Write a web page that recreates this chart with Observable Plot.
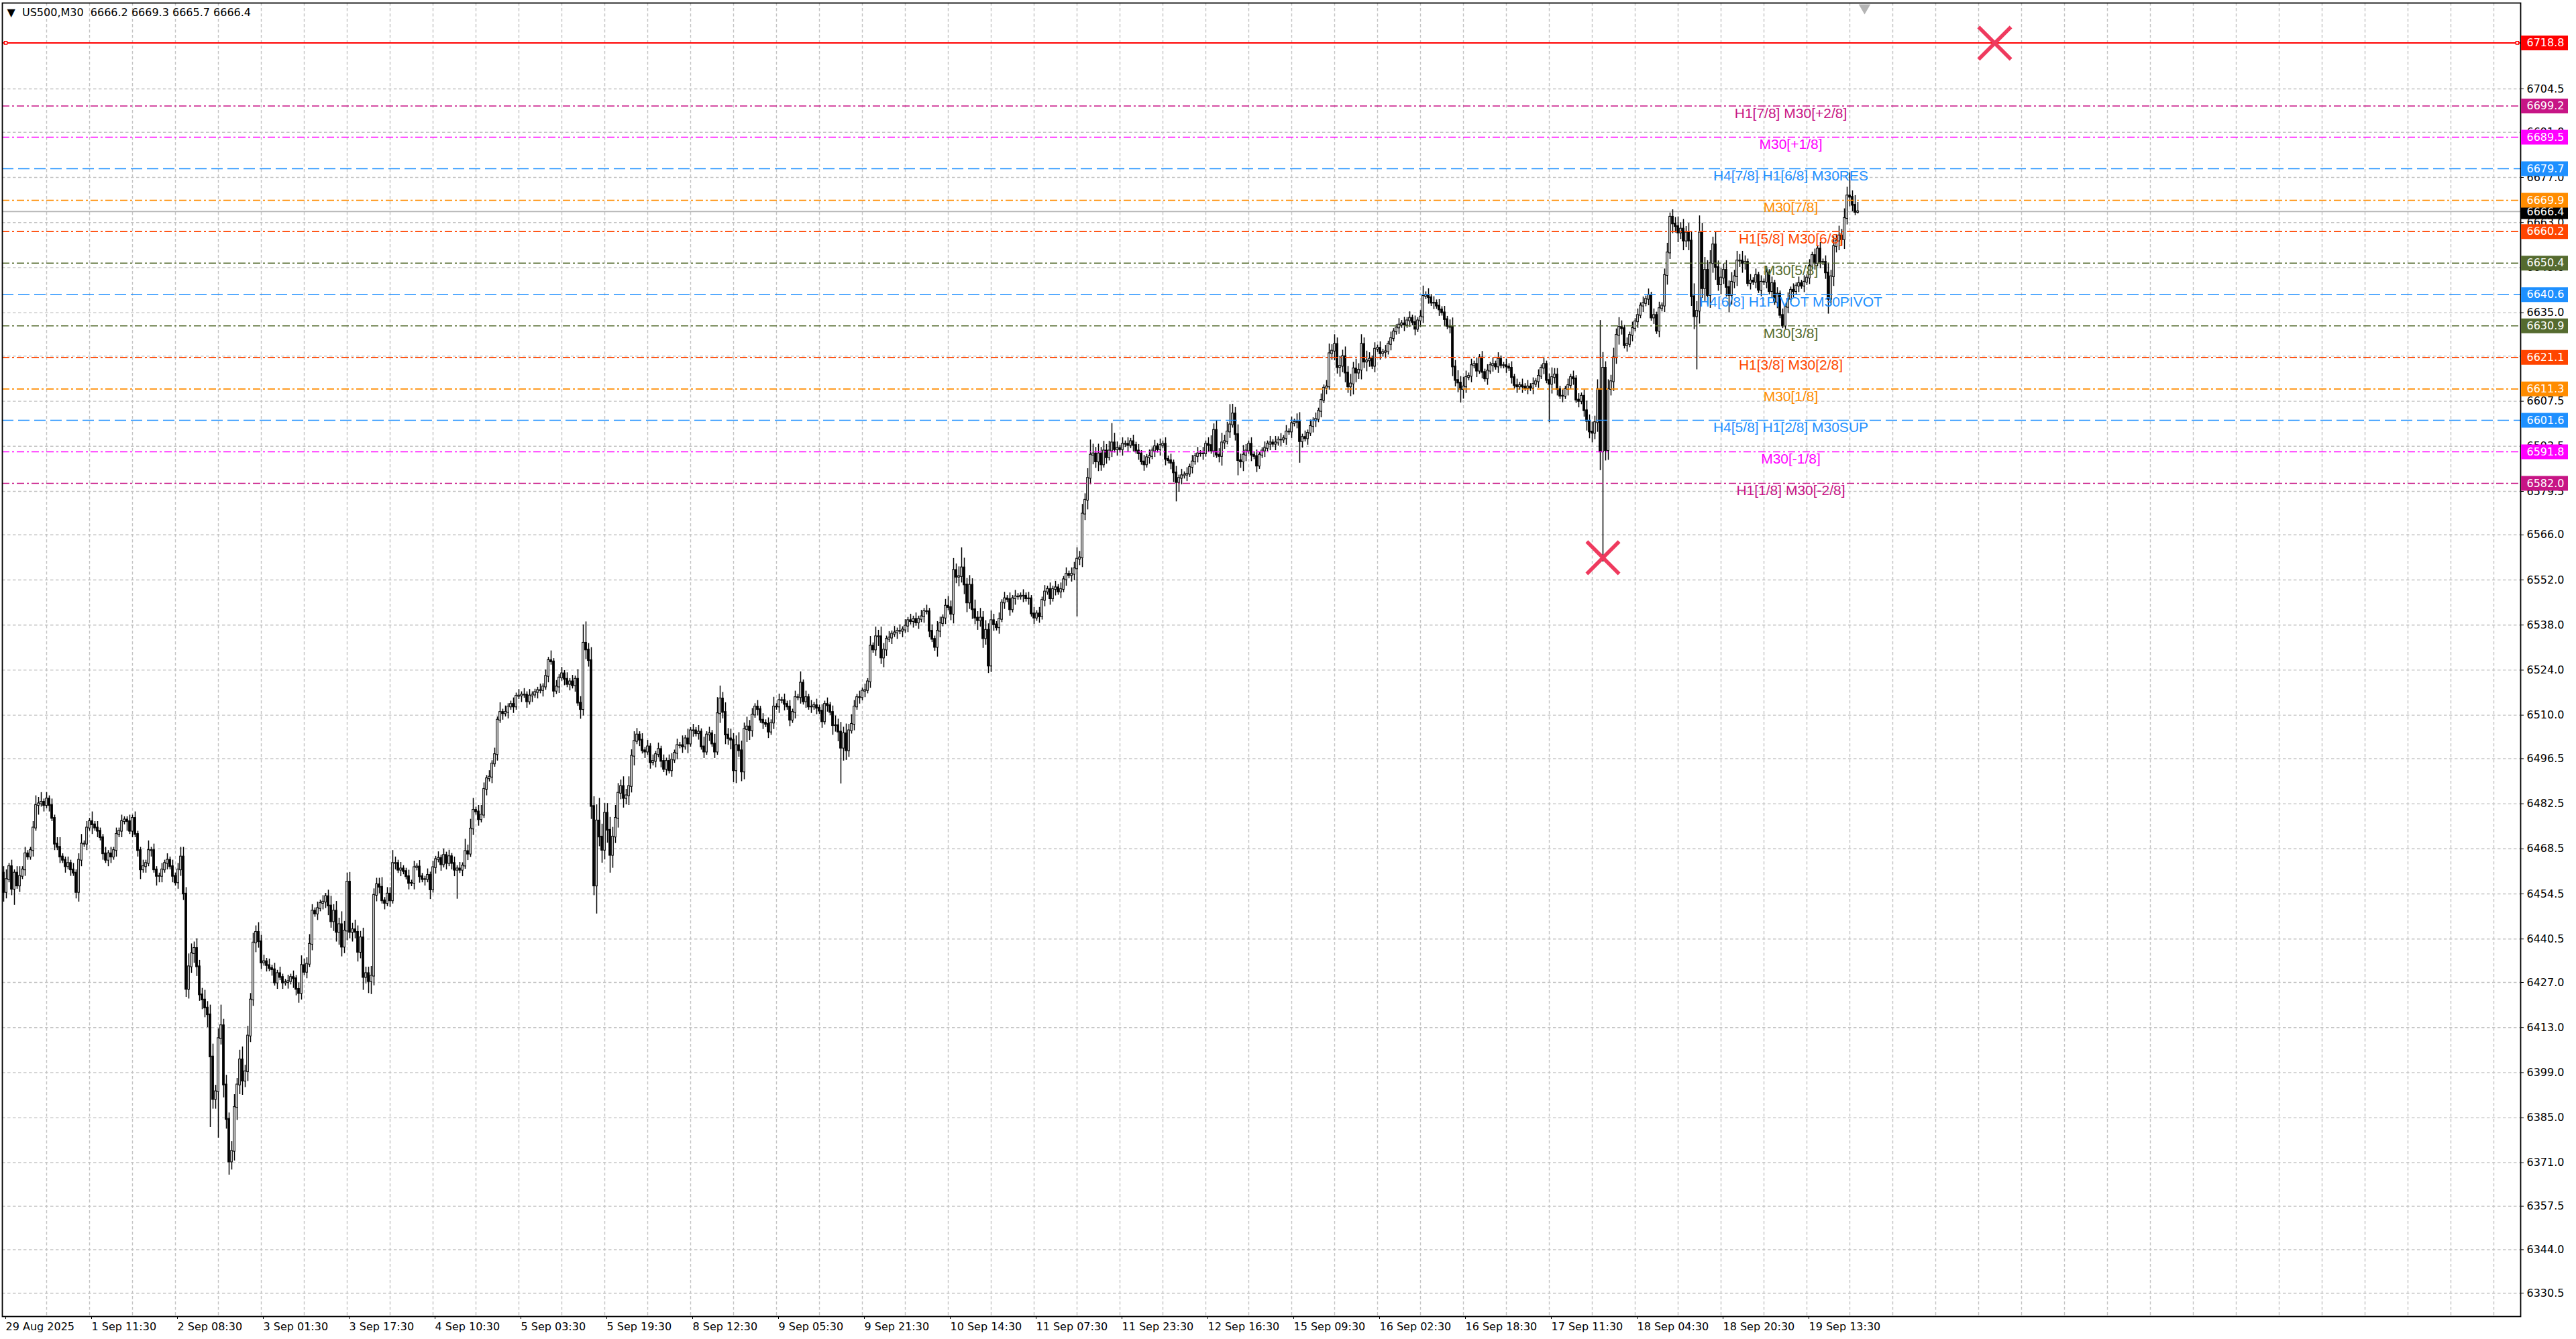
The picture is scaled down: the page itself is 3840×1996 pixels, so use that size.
<!DOCTYPE html>
<html>
<head>
<meta charset="utf-8">
<script src="https://cdn.jsdelivr.net/npm/d3@7"></script>
<script src="https://cdn.jsdelivr.net/npm/@observablehq/plot@0.6"></script>
<style>
  html, body { margin: 0; padding: 0; background: #fff; }
  #chart { width: 3840px; height: 1996px; overflow: hidden; }
</style>
</head>
<body>
<div id="chart"></div>
<script>
const title = "\u25BC\u00a0\u00a0US500,M30\u00a0\u00a06666.2 6669.3 6665.7 6666.4";

// M30 closes, bar 0 = 29 Aug 2025; each bar opens at the previous close
const firstOpen = 6461;
const closesA = [
  6455, 6459, 6463, 6456, 6461, 6457, 6460, 6462, 6467, 6466,
  6468, 6475, 6482, 6482.5, 6483, 6482, 6484, 6482, 6478, 6470,
  6469, 6466, 6465, 6463, 6464, 6462, 6461, 6455, 6465, 6470,
  6470, 6475, 6477, 6476, 6475, 6474, 6472, 6467, 6465, 6467,
  6466, 6468, 6473, 6474, 6477, 6477.5, 6477, 6474, 6478, 6473,
  6468, 6462, 6463, 6464, 6468, 6468, 6462, 6460, 6460, 6462,
  6464, 6465, 6463, 6460, 6458, 6462, 6466, 6454.5, 6424.9, 6431.9,
  6436.0, 6437.6, 6431.9, 6423.2, 6421.6, 6419.1, 6417.0, 6403.9, 6390.7, 6393.1,
  6409.6, 6413.6, 6395.2, 6384.5, 6371.3, 6374.6, 6388.2, 6395.2, 6403.0, 6396.4,
  6399.3, 6410.4, 6421.6, 6439.3, 6442.6, 6439.7, 6433.1, 6433.5, 6432.3, 6431.4,
  6431.0, 6426.9, 6429.8, 6428.6, 6426.9, 6427.0, 6427.3, 6428.6, 6428.2, 6424.9,
  6423.6, 6432.3, 6430.2, 6432.7, 6438.9, 6449.2, 6448.3, 6450.0, 6451.6, 6452.0,
  6453.7, 6450.8, 6445.9, 6449.2, 6442.6, 6445.0, 6438.0, 6443.0, 6458.2, 6442.6,
  6443.4, 6442.6, 6436.4, 6440.9, 6428.6, 6429.8, 6427.3, 6429.0, 6454.1, 6457.4,
  6456.6, 6452.4, 6451.6, 6454.5, 6452.4, 6464.0, 6464.0, 6461.9, 6462.3, 6461.5,
  6459.9, 6457.8, 6457.8, 6462.7, 6462.9, 6459.9, 6459.0, 6459.0, 6460.3, 6455.8,
  6462.7, 6465.2, 6465.6, 6463.6, 6466.5, 6464.0, 6466.1, 6464.0, 6461.9, 6462.3,
  6461.9, 6463.2, 6467.7, 6466.9, 6474.7, 6480.5, 6480.0, 6477.6, 6479.0
];
const closesB = [
  6487.0, 6490.3, 6490.8, 6494.9, 6497.8, 6508.5, 6510.9, 6510.5, 6510.9, 6512.6,
  6513.4, 6512.6, 6515.9, 6516.0, 6516.3, 6516.3, 6514.2, 6516.0, 6516.3, 6517.1,
  6517.7, 6517.7, 6518.8, 6522.1, 6527.0, 6526.6, 6517.5, 6518.8, 6521.6, 6522.9,
  6521.2, 6519.6, 6520.4, 6519.2, 6521.2, 6513.8, 6511.8, 6532.4, 6530.3, 6527.0,
  6481.7, 6457.0, 6477.2, 6472.2, 6468.1, 6479.6, 6474.3, 6466.5, 6472.2, 6478.0,
  6485.8, 6487.9, 6484.2, 6485.0, 6487.9, 6497.3, 6501.9, 6503.9, 6502.3, 6499.0,
  6498.6, 6500.2, 6495.3, 6495.7, 6497.8, 6499.4, 6495.7, 6493.2, 6495.7, 6492.8,
  6496.1, 6498.2, 6500.6, 6500.6, 6500.2, 6502.7, 6501.1, 6505.2, 6505.2, 6504.3,
  6504.8, 6500.2, 6498.6, 6503.9, 6504.3, 6501.1, 6498.6, 6510.5, 6515.1, 6510.9,
  6503.9, 6502.7, 6502.3, 6492.8, 6500.6, 6499.0, 6492.4, 6505.6, 6506.4, 6505.2,
  6510.1, 6512.6, 6511.8, 6508.5, 6507.6, 6507.2, 6504.8, 6507.6, 6512.6, 6512.6,
  6514.6, 6514.6, 6513.4, 6512.6, 6508.5, 6510.9, 6515.5, 6515.5, 6520.0, 6514.2,
  6515.5, 6512.6, 6512.6, 6513.0, 6512.2, 6511.3, 6508.0, 6513.4, 6513.0, 6510.9,
  6506.8, 6506.8, 6504.8, 6499.8, 6504.3, 6499.0, 6505.2, 6507.2, 6512.6, 6515.5,
  6515.5, 6517.5, 6517.7, 6520.4, 6531.5, 6530.3, 6534.4, 6534.4, 6527.8, 6530.3,
  6533.6, 6534.0, 6535.2, 6535.6, 6536.1, 6536.1, 6536.5, 6537.7, 6539.4, 6539.1,
  6539.8, 6538.7, 6539.8, 6540.6, 6542.2, 6542.2, 6536.1, 6533.6, 6531.1, 6536.1,
  6538.5, 6540.2, 6543.9, 6543.5, 6541.4, 6555.0, 6552.9, 6553.1, 6555.8, 6550.5
];
const closesC = [
  6544.9, 6550.4, 6542.8, 6540.2, 6539.4, 6540.2, 6533.8, 6536.4, 6525.3, 6539.4,
  6538.1, 6537.2, 6539.8, 6544.9, 6546.2, 6546.0, 6542.8, 6546.2, 6546.8, 6546.8,
  6547.0, 6547.0, 6546.2, 6546.2, 6541.5, 6540.2, 6541.5, 6540.6, 6545.7, 6548.3,
  6549.1, 6546.2, 6549.1, 6549.6, 6548.3, 6549.1, 6552.1, 6553.8, 6553.4, 6553.8,
  6555.5, 6558.5, 6558.9, 6572.5, 6576.8, 6583.6, 6590.8, 6591.2, 6588.7, 6591.2,
  6587.8, 6592.1, 6590.0, 6592.1, 6594.6, 6592.5, 6592.9, 6592.5, 6594.2, 6594.2,
  6593.8, 6595.0, 6593.8, 6592.1, 6591.2, 6588.7, 6587.8, 6590.0, 6590.4, 6592.1,
  6593.4, 6592.5, 6593.8, 6594.2, 6589.5, 6589.1, 6588.3, 6585.3, 6582.3, 6583.6,
  6584.4, 6584.6, 6584.9, 6587.0, 6588.7, 6590.4, 6591.2, 6591.2, 6591.2, 6594.2,
  6593.8, 6592.1, 6598.5, 6590.8, 6590.4, 6594.6, 6595.0, 6598.0, 6600.2, 6603.6,
  6597.2, 6589.1, 6588.7, 6590.8, 6592.1, 6594.2, 6590.8, 6590.4, 6587.4, 6590.8,
  6592.1, 6592.9, 6594.2, 6594.6, 6594.2, 6594.6, 6595.5, 6595.5, 6595.9, 6598.0,
  6598.0, 6600.6, 6601.0, 6601.0, 6595.0, 6596.3, 6595.9, 6597.6, 6599.7, 6601.4,
  6601.9, 6604.4, 6607.8, 6611.6, 6612.0, 6622.3, 6623.1, 6625.2, 6618.0, 6618.4,
  6621.4, 6616.3, 6612.0, 6612.9, 6617.6, 6616.3, 6617.2, 6625.2, 6619.7, 6620.1,
  6620.6, 6618.4, 6623.7, 6624.0, 6622.3, 6622.7, 6622.9, 6625.2, 6627.0, 6629.1,
  6630.3, 6631.2, 6631.6, 6631.2, 6632.5, 6633.3, 6632.0, 6629.9, 6632.5, 6633.7,
  6640.1, 6640.5, 6639.7, 6638.0, 6638.0, 6637.1, 6635.9, 6635.0, 6632.9, 6630.8
];
const closesD = [
  6630.5, 6618.2, 6614.0, 6613.2, 6611.2, 6612.0, 6614.9, 6615.3, 6618.6, 6619.0,
  6616.9, 6621.0, 6616.5, 6614.5, 6616.9, 6618.6, 6619.0, 6618.2, 6620.6, 6618.6,
  6618.6, 6618.2, 6617.8, 6614.9, 6612.4, 6612.0, 6612.4, 6612.0, 6611.6, 6612.0,
  6611.6, 6612.8, 6613.6, 6615.3, 6617.8, 6619.0, 6614.0, 6612.8, 6614.9, 6615.7,
  6611.2, 6609.1, 6609.1, 6611.2, 6612.4, 6614.9, 6614.5, 6607.9, 6607.5, 6609.1,
  6604.6, 6601.3, 6598.0, 6597.6, 6600.9, 6611.2, 6591.8, 6617.8, 6592.2, 6611.2,
  6613.6, 6621.0, 6628.0, 6630.5, 6630.1, 6624.8, 6625.2, 6628.0, 6630.1, 6632.2,
  6634.2, 6637.1, 6637.9, 6639.2, 6640.4, 6633.4, 6634.2, 6629.3, 6636.3, 6637.1,
  6646.6, 6653.6, 6664.7, 6662.6, 6661.8, 6659.8, 6661.0, 6657.3, 6659.8, 6657.3,
  6640.0, 6633.8, 6635.5, 6659.8, 6642.5, 6648.2, 6640.4, 6650.3, 6656.1, 6649.1,
  6643.7, 6645.8, 6648.2, 6642.9, 6640.4, 6644.5, 6646.2, 6651.1, 6651.1, 6650.3,
  6650.7, 6644.1, 6644.9, 6644.5, 6646.6, 6642.0, 6644.5, 6644.5, 6647.4, 6641.6,
  6644.1, 6638.3, 6640.8, 6634.2, 6630.9, 6636.7, 6639.2, 6642.0, 6641.6, 6643.3,
  6644.1, 6643.3, 6644.5, 6645.8, 6649.5, 6652.8, 6650.3, 6654.8, 6650.7, 6650.7,
  6647.4, 6639.2, 6646.2, 6655.6, 6657.3, 6658.9, 6657.7, 6664.3, 6671.3, 6670.9,
  6668.4, 6666.2, 6666.4
];

// wick lengths beyond the body, in points, one digit per bar
const wickUpA = "2312123121 1232312121 2311212123 1213121121 2121211212 1121312112 1212123324 3232232342 3423234234 2323232212 1212112121 2322321212 1232324323 2322322322 2312232121 1212121121 2121212121 213232123";
const wickDnA = "3212312121 1213121212 1212121232 1213121212 2121213121 2312121322 1212122233 2332334233 3243323432 2322322121 2121212132 3212121212 2323343232 3232423432 2121212121 1212121213 1212121223 121212121";
const wickUpB = "2121213121 1212121211 1212131212 1212132422 4353433434 3232323212 1212121212 2121313121 2131213242 3232343232 2121212131 2121212131 2121212121 2323232321 2121313232 1212121212 1212121213 2123232323";
const wickDnB = "1212121212 1211212121 2121212121 2121213232 4343434342 3232323121 2121212121 2121213121 2121212132 3232423243 2121212121 2121212121 2121212121 3232432121 2121212323 2121212121 2121212123 2121232323";
const wickUpC = "2323232323 2121212121 1212121212 1212121212 2323232323 2323232121 2121212121 2121212121 2121212121 2323232323 2323212121 1212121212 1212312121 2121232323 2323232323 2121212121 1212121212 2121212121";
const wickDnC = "3232323232 2121212121 1212121212 1212121212 2323232323 2121212121 2121212121 2121212323 2121212121 2121232121 2323212121 1212121212 1212121212 2121212323 2323232323 2121212121 1212121212 2121212121";
const wickUpD = "2323232121 2121212121 1212121212 1212121232 2121212121 2323232323 2323212121 2121212121 2323232323 3434343434 2323232323 2121212121 2121212121 2121212121 2323232323 232";
const wickDnD = "2323232121 2121212121 1212121212 1212121232 2121212121 2323232323 2323212121 2121212121 2323232323 3434343434 2323232323 2121212121 2121212121 2121212121 2323232323 211";

// long wicks read individually: [bar, price]
const highOverrides = [
  [14, 6486], [47, 6479], [81, 6420], [128, 6461], [145, 6468], [172, 6471.5], [175, 6484.2],
  [216, 6538.1], [217, 6539], [222, 6484.2], [266, 6515.5], [297, 6523.5], [351, 6546],
  [354, 6558.7], [357, 6562], [400, 6562], [405, 6595.5], [413, 6600.6], [457, 6606.5],
  [482, 6603.6], [529, 6643.3], [540, 6633.4], [595, 6632.6], [596, 6622.7], [621, 6666],
  [622, 6667], [632, 6665.1], [637, 6658.5], [687, 6674], [688, 6678.5], [691, 6669.3]
];
const lowOverrides = [
  [4, 6451], [68, 6422.4], [77, 6382], [80, 6378.7], [84, 6367.2], [85, 6368.8], [89, 6392],
  [136, 6423.6], [169, 6452.9], [221, 6448.3], [226, 6461], [272, 6489.1], [276, 6490],
  [312, 6488.7], [347, 6529.9], [367, 6523], [400, 6540.6], [437, 6576.3], [460, 6584.4],
  [483, 6588.3], [503, 6609.5], [543, 6607], [576, 6600.9], [591, 6595.9], [595, 6586],
  [596, 6557.6], [597, 6589], [631, 6617.3], [643, 6635], [663, 6630.1], [680, 6634.6], [691, 6665.7]
];

// Murrey-math levels
const levelPrices = [6699.2, 6689.5, 6679.7, 6669.9, 6660.2, 6650.4, 6640.6, 6630.9, 6621.1, 6611.3, 6601.6, 6591.8, 6582.0];
const levelLabels = [
  "H1[7/8] M30[+2/8]", "M30[+1/8]", "H4[7/8] H1[6/8] M30RES", "M30[7/8]", "H1[5/8] M30[6/8]",
  "M30[5/8]", "H4[6/8] H1PIVOT M30PIVOT", "M30[3/8]", "H1[3/8] M30[2/8]", "M30[1/8]",
  "H4[5/8] H1[2/8] M30SUP", "M30[-1/8]", "H1[1/8] M30[-2/8]"
];
const levelColors = ["#c71585", "#ff00ff", "#1e90ff", "#ff8c00", "#ff4500", "#556b2f", "#1e90ff", "#556b2f", "#ff4500", "#ff8c00", "#1e90ff", "#ff00ff", "#c71585"];
const levelStyles = ["dashdot", "dashdot", "dash", "dashdot", "dashdot", "dashdot", "dash", "dashdot", "dashdot", "dashdot", "dash", "dashdot", "dashdot"];
const labelBar = 666;
const stopPrice = 6718.8;
const lastPrice = 6666.4;
const crossBars = [596, 742];
const crossPrices = [6558.9, 6718.7];
const shiftBar = 693.5;

const yTicks = [6704.5, 6691.0, 6677.0, 6663.0, 6649.0, 6635.0, 6621.5, 6607.5, 6593.5, 6579.5, 6566.0, 6552.0, 6538.0,
  6524.0, 6510.0, 6496.5, 6482.5, 6468.5, 6454.5, 6440.5, 6427.0, 6413.0, 6399.0, 6385.0, 6371.0, 6357.5, 6344.0, 6330.5];
const xLabels = ["29 Aug 2025", "1 Sep 11:30", "2 Sep 08:30", "3 Sep 01:30", "3 Sep 17:30", "4 Sep 10:30", "5 Sep 03:30",
  "5 Sep 19:30", "8 Sep 12:30", "9 Sep 05:30", "9 Sep 21:30", "10 Sep 14:30", "11 Sep 07:30", "11 Sep 23:30",
  "12 Sep 16:30", "15 Sep 09:30", "16 Sep 02:30", "16 Sep 18:30", "17 Sep 11:30", "18 Sep 04:30", "18 Sep 20:30", "19 Sep 13:30"];
const barsPerLabel = 32;
const barsPerGrid = 16;

// ---- build rows
const parseWicks = s => s.replace(/\s+/g, "").split("").map(Number);
const closes = [...closesA, ...closesB, ...closesC, ...closesD];
const upWick = [wickUpA, wickUpB, wickUpC, wickUpD].flatMap(parseWicks);
const dnWick = [wickDnA, wickDnB, wickDnC, wickDnD].flatMap(parseWicks);
const highFix = new Map(highOverrides);
const lowFix = new Map(lowOverrides);
const bars = closes.map((c, i) => {
  const o = i === 0 ? firstOpen : closes[i - 1];
  const top = Math.max(o, c), bot = Math.min(o, c);
  return {
    i, o, c, top, bot,
    h: highFix.get(i) ?? top + (upWick[i] ?? 0),
    l: lowFix.get(i) ?? bot - (dnWick[i] ?? 0),
    bull: c >= o
  };
});
const levels = levelPrices.map((p, k) => ({price: p, label: levelLabels[k], color: levelColors[k], style: levelStyles[k]}));
const boxes = [{price: stopPrice, color: "#ff0000"}, ...levels];
const crosses = crossBars.map((b, k) => ({bar: b, price: crossPrices[k]}));
const xTickBars = xLabels.map((_, k) => k * barsPerLabel);
const gridBars = d3.range(barsPerGrid, 939, barsPerGrid);

// ---- layout (px)
const W = 3840, H = 1996;
const mL = 3, mT = 4, mR = 83, mB = 34;
const boxW = 70;
const axisFont = "'DejaVu Sans', Verdana, sans-serif";
const labelFont = "'Liberation Sans', Arial, sans-serif";

const chart = Plot.plot({
  width: W, height: H,
  marginLeft: mL, marginRight: mR, marginTop: mT, marginBottom: mB,
  style: {background: "white", fontFamily: axisFont, fontSize: "16px", overflow: "visible"},
  x: {domain: [-0.5, 938], label: null},
  y: {domain: [6323.25, 6731.17], label: null},
  color: {type: "identity"},
  marks: [
    Plot.ruleX(gridBars, {stroke: "#c3c3c3", strokeWidth: 1.4, strokeDasharray: "4.5,3.5"}),
    Plot.ruleY(yTicks, {stroke: "#c3c3c3", strokeWidth: 1.4, strokeDasharray: "4.5,3.5"}),
    Plot.ruleY([lastPrice], {stroke: "#b4b4b4", strokeWidth: 1.6}),
    // candles
    Plot.ruleX(bars, {x: "i", y1: "l", y2: "h", stroke: "black", strokeWidth: 1.5}),
    Plot.rect(bars.filter(d => !d.bull), {x1: d => d.i - 0.32, x2: d => d.i + 0.32, y1: "bot", y2: "top",
      fill: "black", stroke: "black", strokeWidth: 1.1, insetTop: -0.6, insetBottom: -0.6}),
    Plot.rect(bars.filter(d => d.bull), {x1: d => d.i - 0.32, x2: d => d.i + 0.32, y1: "bot", y2: "top",
      fill: "white", stroke: "black", strokeWidth: 1.1, insetTop: -0.6, insetBottom: -0.6}),
    // level lines
    Plot.ruleY([stopPrice], {stroke: "#ff0000", strokeWidth: 2}),
    Plot.dot([stopPrice], {y: d => d, frameAnchor: "left", dx: 5, symbol: "square", r: 2.4, stroke: "#ff0000", fill: "white", strokeWidth: 1.3}),
    Plot.dot([stopPrice], {y: d => d, frameAnchor: "right", dx: -5, symbol: "square", r: 2.4, stroke: "#ff0000", fill: "white", strokeWidth: 1.3}),
    Plot.ruleY(levels.filter(d => d.style === "dash"), {y: "price", stroke: "color", strokeWidth: 1.6, strokeDasharray: "17,7"}),
    Plot.ruleY(levels.filter(d => d.style === "dashdot"), {y: "price", stroke: "color", strokeWidth: 1.6, strokeDasharray: "11,4,3,4"}),
    Plot.text(levels, {x: () => labelBar, y: "price", text: "label", fill: "color", dy: 11,
      fontFamily: labelFont, fontSize: 21, textAnchor: "middle", lineAnchor: "middle"}),
    Plot.dot(crosses, {x: "bar", y: "price", symbol: "times", r: 22, stroke: "#ef3a5e", strokeWidth: 5.5}),
    // axes
    Plot.axisY(yTicks, {anchor: "right", tickSize: 4, tickPadding: 5, tickFormat: d => d.toFixed(1),
      fontSize: 16, fontFamily: axisFont, fill: "black", label: null}),
    Plot.axisX(xTickBars, {anchor: "bottom", tickSize: 4, tickPadding: 5, textAnchor: "start", dx: 3,
      tickFormat: d => xLabels[xTickBars.indexOf(d)], fontSize: 16, fontFamily: axisFont, fill: "black", label: null}),
    Plot.frame({stroke: "black", strokeWidth: 1.8}),
    // chart-shift marker at the top edge
    Plot.dot([shiftBar], {x: d => d, frameAnchor: "top", dy: 7, symbol: "triangle", rotate: 180, r: 6.5, fill: "#b4b4b4"}),
    // price boxes on the right scale
    Plot.ruleY([lastPrice], {stroke: "black", strokeWidth: 22, insetLeft: W - mL - mR + 1, insetRight: -(boxW + 1)}),
    Plot.text([lastPrice], {y: d => d, text: d => d.toFixed(1), frameAnchor: "right", dx: 9, textAnchor: "start",
      fill: "white", fontSize: 16, fontFamily: axisFont}),
    Plot.ruleY(boxes, {y: "price", stroke: "color", strokeWidth: 22, insetLeft: W - mL - mR + 1, insetRight: -(boxW + 1)}),
    Plot.text(boxes, {y: "price", text: d => d.price.toFixed(1), frameAnchor: "right", dx: 9, textAnchor: "start",
      fill: "white", fontSize: 16, fontFamily: axisFont}),
    Plot.text([title], {frameAnchor: "top-left", dx: 7, dy: 14, lineAnchor: "middle", textAnchor: "start",
      fontSize: 16, fontFamily: axisFont, fill: "black"})
  ]
});
document.getElementById("chart").append(chart);
</script>
</body>
</html>
